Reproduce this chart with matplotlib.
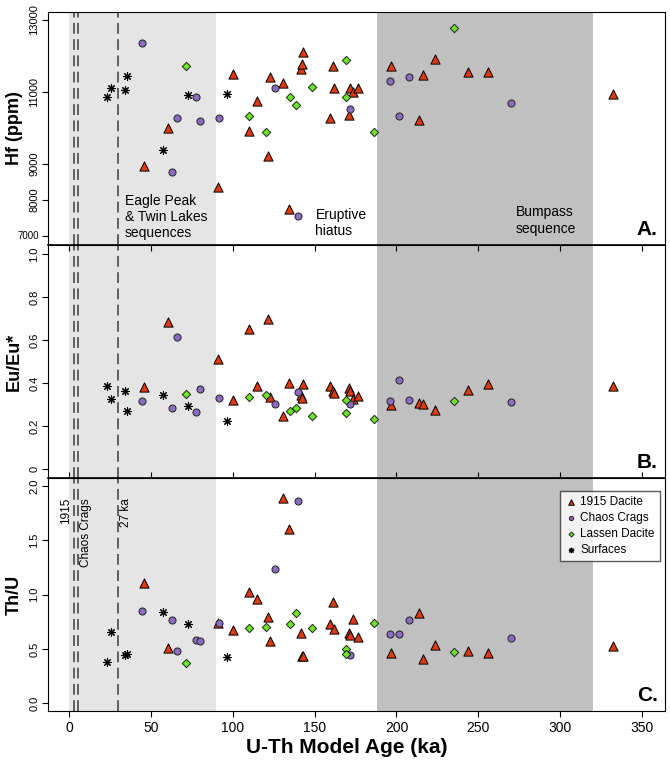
import matplotlib
matplotlib.use("Agg")
import matplotlib.pyplot as plt

plt.rcParams['font.family'] = ['Liberation Sans', 'DejaVu Sans']

# 1915 Dacite (triangles)
dac_age = [45.8, 60.5, 91.0, 100.1, 110.2, 114.9, 121.8, 122.8, 131.0, 134.6, 142.0, 142.4, 143.0,
           159.3, 161.4, 161.6, 171.1, 171.4, 173.4, 176.8, 196.4, 213.7, 216.1, 223.6, 243.4, 256.2, 332.3]
dac_hf = [8950, 10000, 8370, 11500, 9925, 10740, 9230, 11425, 11250, 7750, 11630, 11780, 12120,
          10270, 11720, 11110, 10370, 11120, 10990, 11110, 11730, 10210, 11470, 11910, 11560, 11560, 10940]
dac_eu = [0.383, 0.687, 0.514, 0.322, 0.654, 0.386, 0.699, 0.336, 0.248, 0.400, 0.344, 0.333, 0.397,
          0.387, 0.366, 0.356, 0.377, 0.365, 0.328, 0.341, 0.300, 0.307, 0.302, 0.277, 0.370, 0.397, 0.387]
dac_thu = [1.105, 0.506, 0.737, 0.675, 1.028, 0.958, 0.798, 0.577, 1.893, 1.602, 0.647, 0.440, 0.436,
           0.727, 0.936, 0.684, 0.644, 0.630, 0.776, 0.608, 0.460, 0.829, 0.408, 0.537, 0.481, 0.460, 0.528]

# Chaos Crags (circles)
cc_age = [44.8, 63.0, 66.0, 77.5, 80.2, 91.9, 126.1, 139.8, 171.7, 196.2, 201.3, 207.4, 269.7]
cc_hf = [12350, 8790, 10270, 10850, 10200, 10290, 11120, 7556, 10540, 11310, 10320, 11420, 10690]
cc_eu = [0.316, 0.284, 0.617, 0.268, 0.372, 0.330, 0.305, 0.360, 0.302, 0.316, 0.415, 0.324, 0.314]
cc_thu = [0.850, 0.770, 0.482, 0.583, 0.571, 0.742, 1.237, 1.866, 0.442, 0.641, 0.641, 0.770, 0.601]

# Lassen Dacite (diamonds)
ld_age = [71.3, 110.2, 120.2, 134.9, 138.7, 148.3, 169.1, 169.4, 186.0, 235.3]
ld_hf = [11720, 10340, 9880, 10860, 10630, 11130, 11890, 10850, 9880, 12780]
ld_eu = [0.349, 0.338, 0.344, 0.271, 0.284, 0.247, 0.322, 0.260, 0.232, 0.316]
ld_thu = [0.374, 0.693, 0.705, 0.730, 0.829, 0.690, 0.503, 0.451, 0.739, 0.472]

# Surfaces (asterisks)
sf_age = [23.2, 25.7, 34.0, 35.7, 57.3, 72.5, 96.6]
sf_hf = [10860, 11110, 11060, 11440, 9390, 10930, 10950]
sf_eu = [0.387, 0.326, 0.366, 0.273, 0.344, 0.294, 0.225]
sf_thu = [0.383, 0.659, 0.445, 0.451, 0.841, 0.733, 0.424]

dashed_ages = [3.0, 5.7, 30.0]
dashed_labels = ["1915", "Chaos Crags", "27 ka"]

red = '#dd3a12'
purple = '#8c6cc0'
green = '#6ae626'

fig = plt.figure(figsize=(6.7, 7.65), dpi=100)
left, width = 0.0712, 0.9213
axA = fig.add_axes([left, 0.6797, width, 0.3050])
axB = fig.add_axes([left, 0.3748, width, 0.3049])
axC = fig.add_axes([left, 0.0706, width, 0.3042])

panels = [
    (axA, dac_hf, cc_hf, ld_hf, sf_hf, (6750, 13230), "Hf (ppm)", "A."),
    (axB, dac_eu, cc_eu, ld_eu, sf_eu, (-0.042, 1.043), "Eu/Eu*", "B."),
    (axC, dac_thu, cc_thu, ld_thu, sf_thu, (-0.071, 2.072), "Th/U", "C."),
]

for ax, dv, cv, lv, sv, ylim, ylab, letter in panels:
    ax.axvspan(0, 90, color='#e5e5e5', lw=0, zorder=0)
    ax.axvspan(188, 320, color='#c0c0c0', lw=0, zorder=0)
    for a in dashed_ages:
        ax.axvline(a, color='#555555', lw=1.3, ls=(0, (6, 3)), zorder=1)
    ax.scatter(dac_age, dv, marker='^', s=44, c=red, edgecolors='black', linewidths=0.7, zorder=3,
               label='1915 Dacite')
    ax.scatter(cc_age, cv, marker='o', s=26, c=purple, edgecolors='#222222', linewidths=0.7, zorder=3,
               label='Chaos Crags')
    ax.scatter(ld_age, lv, marker='D', s=18, c=green, edgecolors='#222222', linewidths=0.7, zorder=3,
               label='Lassen Dacite')
    ax.scatter(sf_age, sv, marker=(8, 2, 0), s=30, c='black', linewidths=0.8, zorder=3,
               label='Surfaces')
    ax.set_xlim(-13, 364)
    ax.set_ylim(*ylim)
    ax.set_ylabel(ylab, fontsize=13, fontweight='bold')
    ax.yaxis.set_label_coords(-0.04, 0.5)
    ax.text(0.988, 0.025, letter, transform=ax.transAxes, ha='right', va='bottom',
            fontsize=15, fontweight='bold')
    ax.set_xticks([0, 50, 100, 150, 200, 250, 300, 350])
    ax.tick_params(axis='y', labelsize=8, length=4, pad=2)

# y ticks
axA.set_yticks([7000, 8000, 9000, 11000, 13000])
axA.set_yticklabels(['7000', '8000', '9000', '11000', '13000'])
axB.set_yticks([0, 0.2, 0.4, 0.6, 0.8, 1.0])
axB.set_yticklabels(['0', '0.2', '0.4', '0.6', '0.8', '1.0'])
axC.set_yticks([0.0, 0.5, 1.0, 1.5, 2.0])
axC.set_yticklabels(['0.0', '0.5', '1.0', '1.5', '2.0'])
for ax in (axA, axB, axC):
    for lbl in ax.get_yticklabels():
        lbl.set_rotation(90)
        lbl.set_va('center')
axA.get_yticklabels()[0].set_rotation(0)
axA.get_yticklabels()[0].set_fontsize(7)

# x ticks: panel A none; B and C ticks on top pointing in
axA.tick_params(axis='x', bottom=False, labelbottom=False)
for ax in (axB, axC):
    ax.tick_params(axis='x', top=True, direction='in', length=4)
axB.tick_params(axis='x', bottom=False, labelbottom=False)
axC.tick_params(axis='x', bottom=True, labelsize=10, length=4, direction='out')
axC.tick_params(axis='x', which='major', top=True)
axB.spines['bottom'].set_linewidth(1.2)
axA.spines['bottom'].set_linewidth(1.2)

# annotations
axA.text(34, 8180, "Eagle Peak\n& Twin Lakes\nsequences", fontsize=10, va='top', ha='left',
         linespacing=1.2)
axA.text(150.5, 7780, "Eruptive\nhiatus", fontsize=10, va='top', ha='left', linespacing=1.2)
axA.text(273, 7850, "Bumpass\nsequence", fontsize=10, va='top', ha='left', linespacing=1.2)

rot_pos = [-1.5, 10.2, 35.0]
for xx, lab in zip(rot_pos, dashed_labels):
    axC.text(xx, 1.89, lab, rotation=90, fontsize=8.5, ha='center', va='top')

leg = axC.legend(loc='upper right', bbox_to_anchor=(0.995, 0.955), fontsize=8.5, frameon=True,
                 fancybox=False, edgecolor='#333333', markerscale=0.6, handletextpad=0.3,
                 borderpad=0.4, labelspacing=0.35, handlelength=1.0, borderaxespad=0.2)
leg.get_frame().set_linewidth(1.0)

fig.text(0.518, 0.0235, "U-Th Model Age (ka)", ha='center', va='center', fontsize=15,
         fontweight='bold')

fig.savefig("out.png", dpi=100)
